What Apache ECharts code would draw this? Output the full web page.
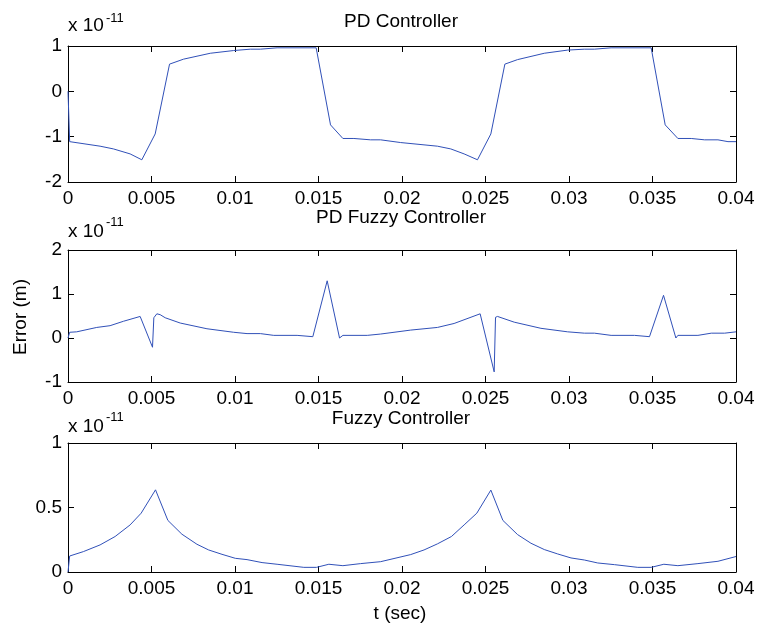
<!DOCTYPE html>
<html>
<head>
<meta charset="utf-8">
<script src="https://cdn.jsdelivr.net/npm/echarts@6/dist/echarts.min.js"></script>
<style>html,body{margin:0;padding:0;background:#fff}#c{width:760px;height:629px}</style>
</head>
<body>
<div id="c"></div>
<script>
// ---- data (error x 1e-11 m) ----
const titles = ['PD Controller', 'PD Fuzzy Controller', 'Fuzzy Controller'];
const xTicks = [0, 0.005, 0.01, 0.015, 0.02, 0.025, 0.03, 0.035, 0.04];

const pdT = [0, 0.0001, 0.00192, 0.00272, 0.00372, 0.00442, 0.00522, 0.00608, 0.00692, 0.00852, 0.00992, 0.01092, 0.01152, 0.01252, 0.01486, 0.01572, 0.01646, 0.01712, 0.01812, 0.01872, 0.01992, 0.02212, 0.02292, 0.02372, 0.02452, 0.02532, 0.02616, 0.02692, 0.02852, 0.02992, 0.03092, 0.03152, 0.03252, 0.03492, 0.03576, 0.03652, 0.03732, 0.03812, 0.03892, 0.03952, 0.04];
const pdV = [0, -1.11, -1.21, -1.27, -1.38, -1.51, -0.94, 0.60, 0.71, 0.84, 0.90, 0.93, 0.93, 0.96, 0.96, -0.74, -1.04, -1.04, -1.07, -1.07, -1.13, -1.21, -1.27, -1.38, -1.51, -0.94, 0.60, 0.70, 0.84, 0.91, 0.93, 0.93, 0.96, 0.96, -0.74, -1.04, -1.04, -1.07, -1.07, -1.11, -1.11];

const pdfT = [0, 0.0001, 0.00052, 0.00172, 0.00252, 0.00332, 0.00432, 0.00506, 0.00514, 0.00532, 0.00552, 0.00582, 0.00672, 0.00832, 0.00992, 0.01072, 0.01152, 0.01232, 0.01372, 0.01466, 0.01552, 0.01626, 0.01646, 0.01792, 0.01872, 0.02052, 0.02212, 0.02312, 0.02468, 0.02552, 0.0256, 0.02572, 0.02672, 0.02832, 0.02992, 0.03092, 0.03152, 0.03252, 0.03392, 0.03482, 0.03566, 0.0364, 0.03652, 0.03772, 0.03852, 0.03932, 0.04];
const pdfV = [0, 0.13, 0.14, 0.24, 0.28, 0.38, 0.49, -0.21, 0.46, 0.55, 0.53, 0.46, 0.34, 0.21, 0.13, 0.10, 0.10, 0.06, 0.06, 0.03, 1.30, 0.0, 0.06, 0.06, 0.09, 0.18, 0.24, 0.33, 0.55, -0.77, 0.47, 0.49, 0.36, 0.22, 0.14, 0.11, 0.11, 0.06, 0.06, 0.03, 0.97, 0.0, 0.06, 0.06, 0.11, 0.11, 0.14];

const fT = [0, 0.0001, 0.00092, 0.00192, 0.00282, 0.00372, 0.00438, 0.00524, 0.00598, 0.00682, 0.00772, 0.00842, 0.00922, 0.01002, 0.01072, 0.01162, 0.01252, 0.01412, 0.01488, 0.01562, 0.01646, 0.01752, 0.01872, 0.02052, 0.02132, 0.02212, 0.02296, 0.02372, 0.02448, 0.02532, 0.02604, 0.02692, 0.02772, 0.02852, 0.02932, 0.03012, 0.03092, 0.03172, 0.03272, 0.03412, 0.03492, 0.03568, 0.03652, 0.03772, 0.03892, 0.04];
const fV = [0, 0.124, 0.158, 0.21, 0.275, 0.365, 0.456, 0.637, 0.40, 0.293, 0.215, 0.171, 0.137, 0.106, 0.096, 0.073, 0.060, 0.036, 0.036, 0.060, 0.049, 0.065, 0.080, 0.135, 0.171, 0.218, 0.275, 0.365, 0.456, 0.635, 0.40, 0.29, 0.223, 0.174, 0.14, 0.109, 0.093, 0.07, 0.057, 0.036, 0.036, 0.06, 0.049, 0.065, 0.083, 0.12];

const yMins = [-2, -1, 0];
const yMaxs = [1, 2, 1];
const yIntervals = [1, 1, 0.5];

// ---- layout ----
const FONT = 'Liberation Sans, Arial, Helvetica, sans-serif';
const grids = [
  {left: 68, right: 24, top: 46, height: 136},
  {left: 68, right: 24, top: 250, height: 132},
  {left: 68, right: 24, top: 443, height: 129}
];
const LINE = '#3050b8';
const fmt = v => String(parseFloat(Number(v).toFixed(4)));

const xAxis = [], yAxis = [], series = [];
const seriesData = [
  pdT.map((t, i) => [t, pdV[i]]),
  pdfT.map((t, i) => [t, pdfV[i]]),
  fT.map((t, i) => [t, fV[i]])
];
grids.forEach((g, i) => {
  const axLine = {show: true, onZero: false, lineStyle: {color: '#000', width: 1}};
  const tick = {show: true, inside: true, length: 6, lineStyle: {color: '#000', width: 1}};
  xAxis.push({gridIndex: i, type: 'value', position: 'bottom', min: xTicks[0], max: xTicks[xTicks.length - 1], interval: xTicks[1] - xTicks[0],
    axisLine: axLine, axisTick: tick, splitLine: {show: false},
    axisLabel: {show: true, fontSize: 19, fontFamily: FONT, color: '#000', margin: 7, formatter: fmt, showMinLabel: true, showMaxLabel: true}});
  xAxis.push({gridIndex: i, type: 'value', position: 'top', min: xTicks[0], max: xTicks[xTicks.length - 1], interval: xTicks[1] - xTicks[0],
    axisLine: axLine, axisTick: tick, splitLine: {show: false}, axisLabel: {show: false}});
  yAxis.push({gridIndex: i, type: 'value', position: 'left', min: yMins[i], max: yMaxs[i], interval: yIntervals[i],
    axisLine: axLine, axisTick: tick, splitLine: {show: false},
    axisLabel: {show: true, fontSize: 19, fontFamily: FONT, color: '#000', margin: 6, formatter: fmt, showMinLabel: true, showMaxLabel: true}});
  yAxis.push({gridIndex: i, type: 'value', position: 'right', min: yMins[i], max: yMaxs[i], interval: yIntervals[i],
    axisLine: axLine, axisTick: tick, splitLine: {show: false}, axisLabel: {show: false}});
  series.push({type: 'line', xAxisIndex: 2 * i, yAxisIndex: 2 * i, data: seriesData[i], showSymbol: false, symbol: 'none',
    lineStyle: {color: LINE, width: 1}, animation: false, clip: true});
});

const titleY = [22, 218, 419];
const expY = [26, 232, 427];
const supY = [18, 222, 417];
const graphic = [];
titles.forEach((t, i) => {
  graphic.push({type: 'text', x: 401, y: titleY[i], style: {text: t, font: '19px ' + FONT, fill: '#000', align: 'center', verticalAlign: 'middle'}});
  graphic.push({type: 'text', x: 68, y: expY[i], style: {text: 'x 10', font: '19px ' + FONT, fill: '#000', align: 'left', verticalAlign: 'middle'}});
  graphic.push({type: 'text', x: 106, y: supY[i], style: {text: '-11', font: '13px ' + FONT, fill: '#000', align: 'left', verticalAlign: 'middle'}});
});
graphic.push({type: 'text', x: 400, y: 614, style: {text: 't (sec)', font: '19px ' + FONT, fill: '#000', align: 'center', verticalAlign: 'middle'}});
graphic.push({type: 'text', x: 21, y: 317, rotation: Math.PI / 2, style: {text: 'Error (m)', font: '19px ' + FONT, fill: '#000', align: 'center', verticalAlign: 'middle'}});

const chart = echarts.init(document.getElementById('c'), null, {renderer: 'canvas'});
chart.setOption({
  backgroundColor: '#fff',
  animation: false,
  grid: grids.map(g => Object.assign({containLabel: false, show: false}, g)),
  xAxis, yAxis, series, graphic
});
</script>
</body>
</html>
